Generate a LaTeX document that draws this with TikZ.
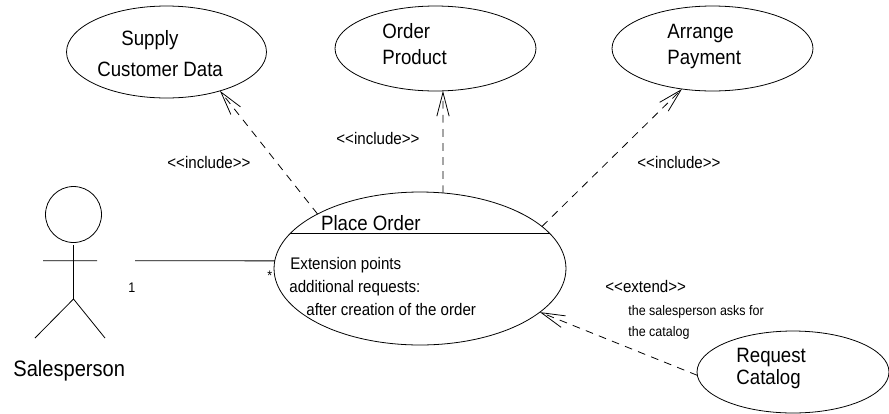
\documentclass[tikz,border=0pt]{standalone}
\usepackage{fontspec}
\setmainfont[FakeStretch=0.9]{Liberation Sans}
\usetikzlibrary{arrows.meta,shapes.geometric}
\tikzset{
	usecase/.style={draw, ellipse, inner sep=0pt, outer sep=0pt},
	dep/.style={dash pattern=on 4.4pt off 3.6pt, -{Straight Barb[length=13.5pt,width=7pt]}},
	big/.style={anchor=base west, inner sep=0pt, font=\fontsize{11.8}{13}\selectfont},
	mid/.style={anchor=base west, inner sep=0pt, font=\fontsize{9.55}{11}\selectfont},
	tiny/.style={anchor=base west, inner sep=0pt, font=\fontsize{7.9}{9}\selectfont},
}
\begin{document}
\begin{tikzpicture}[x=0.02cm, y=-0.02cm, line width=0.45pt, line join=round]
			\useasboundingbox (0,0) rectangle (889,413);
			% use cases
			\node [usecase, minimum width=4cm, minimum height=1.84cm] (supply) at (166.5,52) {};
			\node [usecase, minimum width=4.02cm, minimum height=1.7cm] (order) at (435.5,48.5) {};
			\node [usecase, minimum width=4.02cm, minimum height=1.7cm] (arrange) at (712.5,48.5) {};
			\node [usecase, minimum width=5.84cm, minimum height=3.06cm] (place) at (420,268.5) {};
			\node [usecase, minimum width=3.84cm, minimum height=1.64cm] (request) at (793,372) {};
			\draw (place.165) -- (place.15);
			% actor
			\node [draw, circle, inner sep=0pt, outer sep=0pt, minimum size=1.12cm] (head) at (73.5,214.5) {};
			\path
			(73.5,245) coordinate (neck)
			(73.5,299) coordinate (hip)
			(43,260.7) coordinate (armL)
			(97,260.7) coordinate (armR)
			(35,338) coordinate (footL)
			(105,338) coordinate (footR)
			(135,260.7) coordinate (assoc)
			;
			\draw (neck)--(hip) (armL)--(armR) (footL)--(hip)--(footR);
			\draw (assoc)--(place.177);
			% dependencies
			\draw [dep] (place.152) -- (supply.-36);
			\draw [dep] (place.73) -- (order.-80);
			\draw [dep] (place.19.5) -- (arrange.-127);
			\draw [dep] (request.182) -- (place.-20);
			% texts
			\foreach \n/\x/\y/\t in {
				supplyA/121/45/Supply, supplyB/97/76/Customer Data,
				orderA/382/38/Order, orderB/382/64/Product,
				arrangeA/667/38/Arrange, arrangeB/667/64/Payment,
				placeT/320.7/230/Place Order, requestA/736/362/Request, requestB/736/384/Catalog}{
				\node [big] (\n) at (\x,\y) {\t};
			}
			\foreach \n/\x/\y/\t in {
				inclA/167/168/{<{}<include>{}>}, inclB/336/144/{<{}<include>{}>}, inclC/637/168/{<{}<include>{}>},
				extA/605/292/{<{}<extend>{}>},
				extP/290/269/Extension points, extQ/289/292/additional requests:,
				extR/306/315/after creation of the order}{
				\node [mid] (\n) at (\x,\y) {\t};
			}
			\foreach \n/\x/\y/\t in {
				condA/628/315/the salesperson asks for, condB/628/336/the catalog,
				multA/128/292/1, multB/267/280/*}{
				\node [tiny] (\n) at (\x,\y) {\t};
			}
			\node [anchor=base west, inner sep=0pt, font=\fontsize{12.7}{14}\selectfont] (actor) at (13,376) {Salesperson};
		\end{tikzpicture}
\end{document}
